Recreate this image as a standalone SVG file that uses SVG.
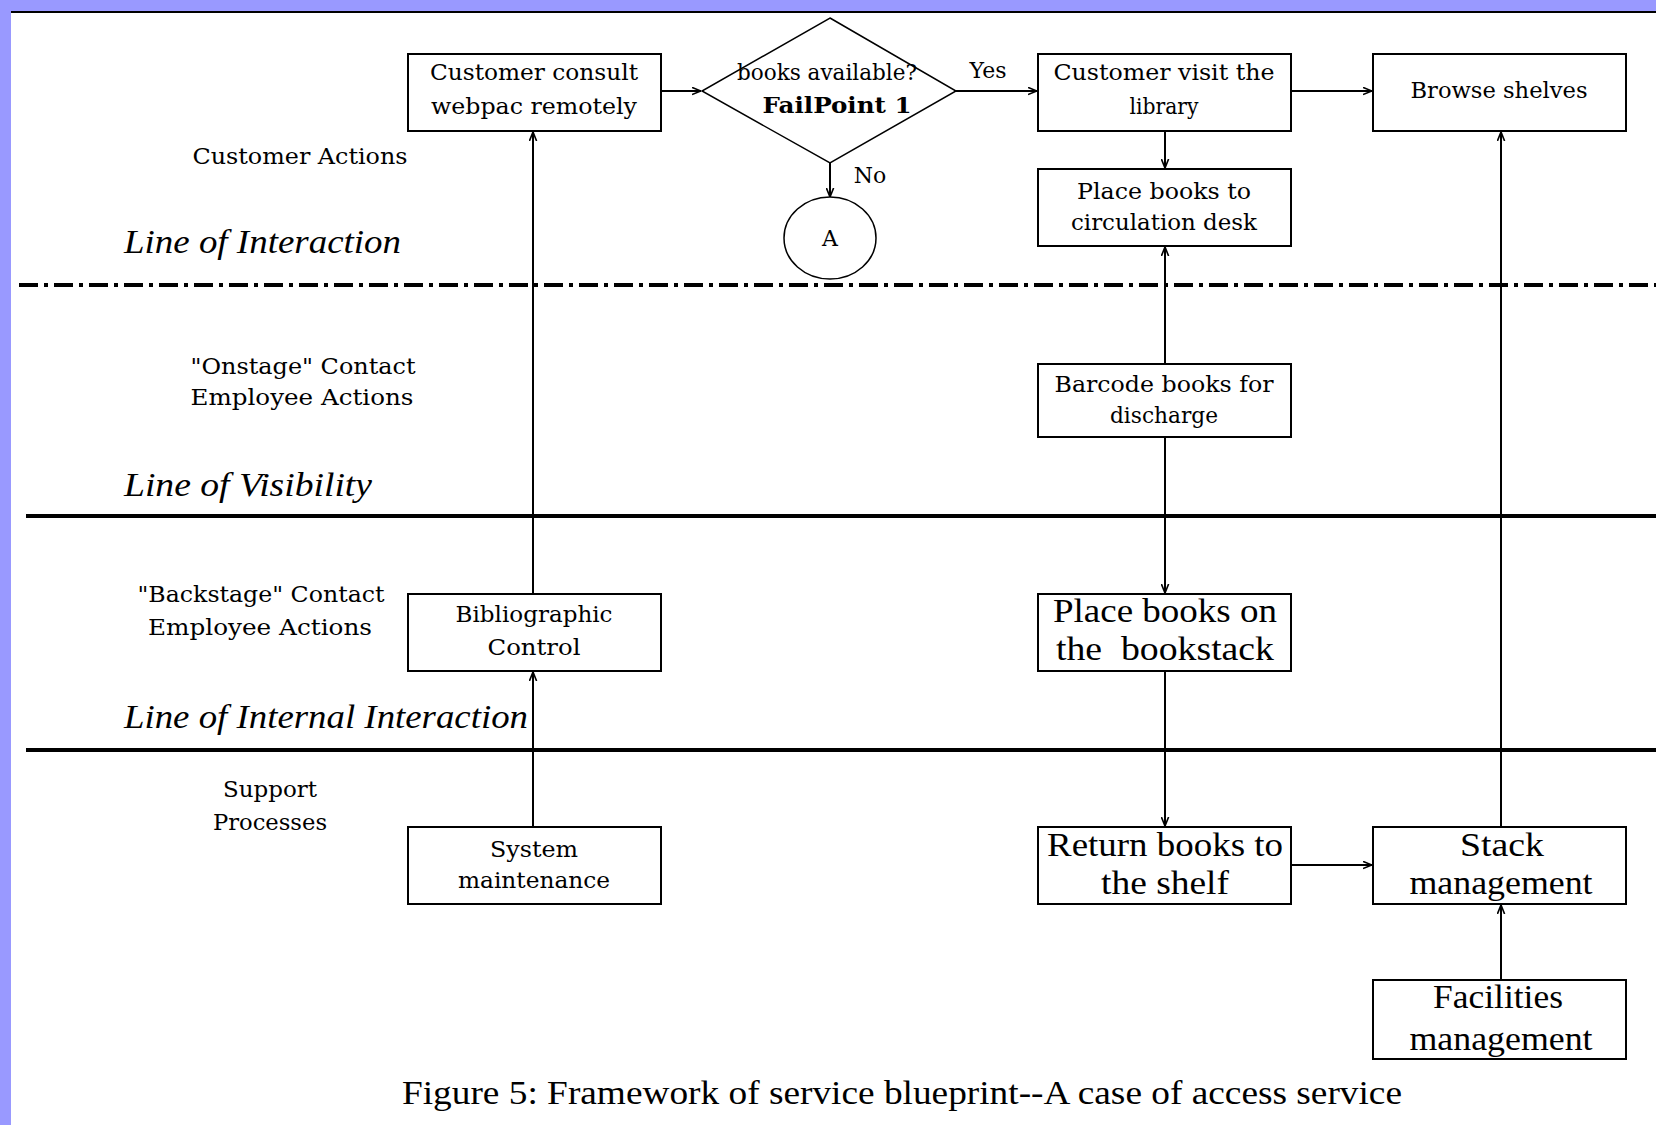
<svg xmlns="http://www.w3.org/2000/svg" width="1656" height="1125" viewBox="0 0 1656 1125">
<style>
.box{fill:#fff;stroke:#000;stroke-width:2}
.t{font-family:"DejaVu Serif","Liberation Serif",serif;font-size:22px;fill:#000;text-anchor:middle}
.b{font-family:"Liberation Serif","DejaVu Serif",serif;font-size:33px;fill:#000;text-anchor:middle;white-space:pre}
.it{font-family:"Liberation Serif","DejaVu Serif",serif;font-style:italic;font-size:34px;fill:#000}
.con{fill:none;stroke:#000;stroke-width:2;marker-end:url(#arr)}
.lane{fill:none;stroke:#000;stroke-width:4}
</style>
<defs>
<marker id="arr" viewBox="0 0 10 10" refX="10" refY="5" markerWidth="9" markerHeight="9" markerUnits="userSpaceOnUse" orient="auto">
<path d="M0,1 L10,5 L0,9" fill="none" stroke="#000" stroke-width="1.8"/>
</marker>
</defs>
<rect x="0" y="0" width="1656" height="1125" fill="#fff"/>
<rect x="0" y="0" width="1656" height="11" fill="#9999ff"/>
<rect x="0" y="0" width="11" height="1125" fill="#9999ff"/>
<line x1="11" y1="12" x2="1656" y2="12" stroke="#000" stroke-width="2"/>

<g id="lanes">
<line class="lane" x1="19" y1="285" x2="1656" y2="285" stroke-dasharray="19,6,4,6"/>
<line class="lane" x1="26" y1="516" x2="1656" y2="516"/>
<line class="lane" x1="26" y1="750" x2="1656" y2="750"/>
</g>

<g id="lane-labels">
<text class="t" x="300" y="164" textLength="215" lengthAdjust="spacingAndGlyphs">Customer Actions</text>
<text class="it" x="124" y="253" textLength="277" lengthAdjust="spacingAndGlyphs">Line of Interaction</text>
<text class="t" x="303" y="374" textLength="225" lengthAdjust="spacingAndGlyphs">"Onstage" Contact</text>
<text class="t" x="302" y="405" textLength="223" lengthAdjust="spacingAndGlyphs">Employee Actions</text>
<text class="it" x="124" y="496" textLength="248" lengthAdjust="spacingAndGlyphs">Line of Visibility</text>
<text class="t" x="261" y="602" textLength="247" lengthAdjust="spacingAndGlyphs">"Backstage" Contact</text>
<text class="t" x="260" y="635" textLength="224" lengthAdjust="spacingAndGlyphs">Employee Actions</text>
<text class="it" x="124" y="728" textLength="404" lengthAdjust="spacingAndGlyphs">Line of Internal Interaction</text>
<text class="t" x="270" y="797" textLength="94" lengthAdjust="spacingAndGlyphs">Support</text>
<text class="t" x="270" y="830" textLength="114" lengthAdjust="spacingAndGlyphs">Processes</text>
</g>

<g id="connectors">
<path class="con" d="M661,91 H701"/>
<path class="con" d="M956,91 H1037"/>
<path class="con" d="M830,163 V197"/>
<path class="con" d="M1291,91 H1372"/>
<path class="con" d="M1165,131 V168"/>
<path class="con" d="M1165,364 V247"/>
<path class="con" d="M1165,437 V593"/>
<path class="con" d="M1165,671 V826"/>
<path class="con" d="M1291,865 H1372"/>
<path class="con" d="M1501,827 V132"/>
<path class="con" d="M1501,980 V905"/>
<path class="con" d="M533,827 V672"/>
<path class="con" d="M533,594 V132"/>
<text class="t" x="988" y="78" font-size="18">Yes</text>
<text class="t" x="870" y="183" font-size="18">No</text>
</g>

<g id="n-consult">
<rect class="box" x="408" y="54" width="253" height="77"/>
<text class="t" x="534" y="80" textLength="208" lengthAdjust="spacingAndGlyphs">Customer consult</text>
<text class="t" x="534" y="114" textLength="206" lengthAdjust="spacingAndGlyphs">webpac remotely</text>
</g>

<g id="n-decision">
<polygon points="830,18 956,91 830,163 702,91" fill="#fff" stroke="#000" stroke-width="1.5"/>
<text class="t" x="827" y="80" textLength="180" lengthAdjust="spacingAndGlyphs">books available?</text>
<text class="t" x="837" y="113" font-size="23" font-weight="bold" textLength="149" lengthAdjust="spacingAndGlyphs">FailPoint 1</text>
</g>

<g id="n-a">
<ellipse cx="830" cy="238" rx="46" ry="41" fill="#fff" stroke="#000" stroke-width="1.5"/>
<text class="t" x="830" y="246" font-size="20">A</text>
</g>

<g id="n-visit">
<rect class="box" x="1038" y="54" width="253" height="77"/>
<text class="t" x="1164" y="80" textLength="221" lengthAdjust="spacingAndGlyphs">Customer visit the</text>
<text class="t" x="1164" y="114" textLength="69" lengthAdjust="spacingAndGlyphs">library</text>
</g>

<g id="n-browse">
<rect class="box" x="1373" y="54" width="253" height="77"/>
<text class="t" x="1499" y="98" textLength="177" lengthAdjust="spacingAndGlyphs">Browse shelves</text>
</g>

<g id="n-circ">
<rect class="box" x="1038" y="169" width="253" height="77"/>
<text class="t" x="1164" y="199" textLength="174" lengthAdjust="spacingAndGlyphs">Place books to</text>
<text class="t" x="1164" y="230" textLength="186" lengthAdjust="spacingAndGlyphs">circulation desk</text>
</g>

<g id="n-barcode">
<rect class="box" x="1038" y="364" width="253" height="73"/>
<text class="t" x="1164" y="392" textLength="219" lengthAdjust="spacingAndGlyphs">Barcode books for</text>
<text class="t" x="1164" y="423" textLength="108" lengthAdjust="spacingAndGlyphs">discharge</text>
</g>

<g id="n-biblio">
<rect class="box" x="408" y="594" width="253" height="77"/>
<text class="t" x="534" y="622" textLength="157" lengthAdjust="spacingAndGlyphs">Bibliographic</text>
<text class="t" x="534" y="655" textLength="93" lengthAdjust="spacingAndGlyphs">Control</text>
</g>

<g id="n-bookstack">
<rect class="box" x="1038" y="594" width="253" height="77"/>
<text class="b" x="1165" y="622" textLength="224" lengthAdjust="spacingAndGlyphs">Place books on</text>
<text class="b" x="1165" y="660" textLength="218" lengthAdjust="spacingAndGlyphs" xml:space="preserve">the  bookstack</text>
</g>

<g id="n-sysmaint">
<rect class="box" x="408" y="827" width="253" height="77"/>
<text class="t" x="534" y="857" textLength="88" lengthAdjust="spacingAndGlyphs">System</text>
<text class="t" x="534" y="888" textLength="152" lengthAdjust="spacingAndGlyphs">maintenance</text>
</g>

<g id="n-return">
<rect class="box" x="1038" y="827" width="253" height="77"/>
<text class="b" x="1165" y="856" textLength="236" lengthAdjust="spacingAndGlyphs">Return books to</text>
<text class="b" x="1165" y="894" textLength="128" lengthAdjust="spacingAndGlyphs">the shelf</text>
</g>

<g id="n-stack">
<rect class="box" x="1373" y="827" width="253" height="77"/>
<text class="b" x="1502" y="856" textLength="84" lengthAdjust="spacingAndGlyphs">Stack</text>
<text class="b" x="1501" y="894" textLength="183" lengthAdjust="spacingAndGlyphs">management</text>
</g>

<g id="n-facilities">
<rect class="box" x="1373" y="980" width="253" height="79"/>
<text class="b" x="1498" y="1008" textLength="130" lengthAdjust="spacingAndGlyphs">Facilities</text>
<text class="b" x="1501" y="1050" textLength="183" lengthAdjust="spacingAndGlyphs">management</text>
</g>

<g id="caption">
<text class="b" x="902" y="1104" textLength="1000" lengthAdjust="spacingAndGlyphs">Figure 5: Framework of service blueprint--A case of access service</text>
</g>
</svg>
